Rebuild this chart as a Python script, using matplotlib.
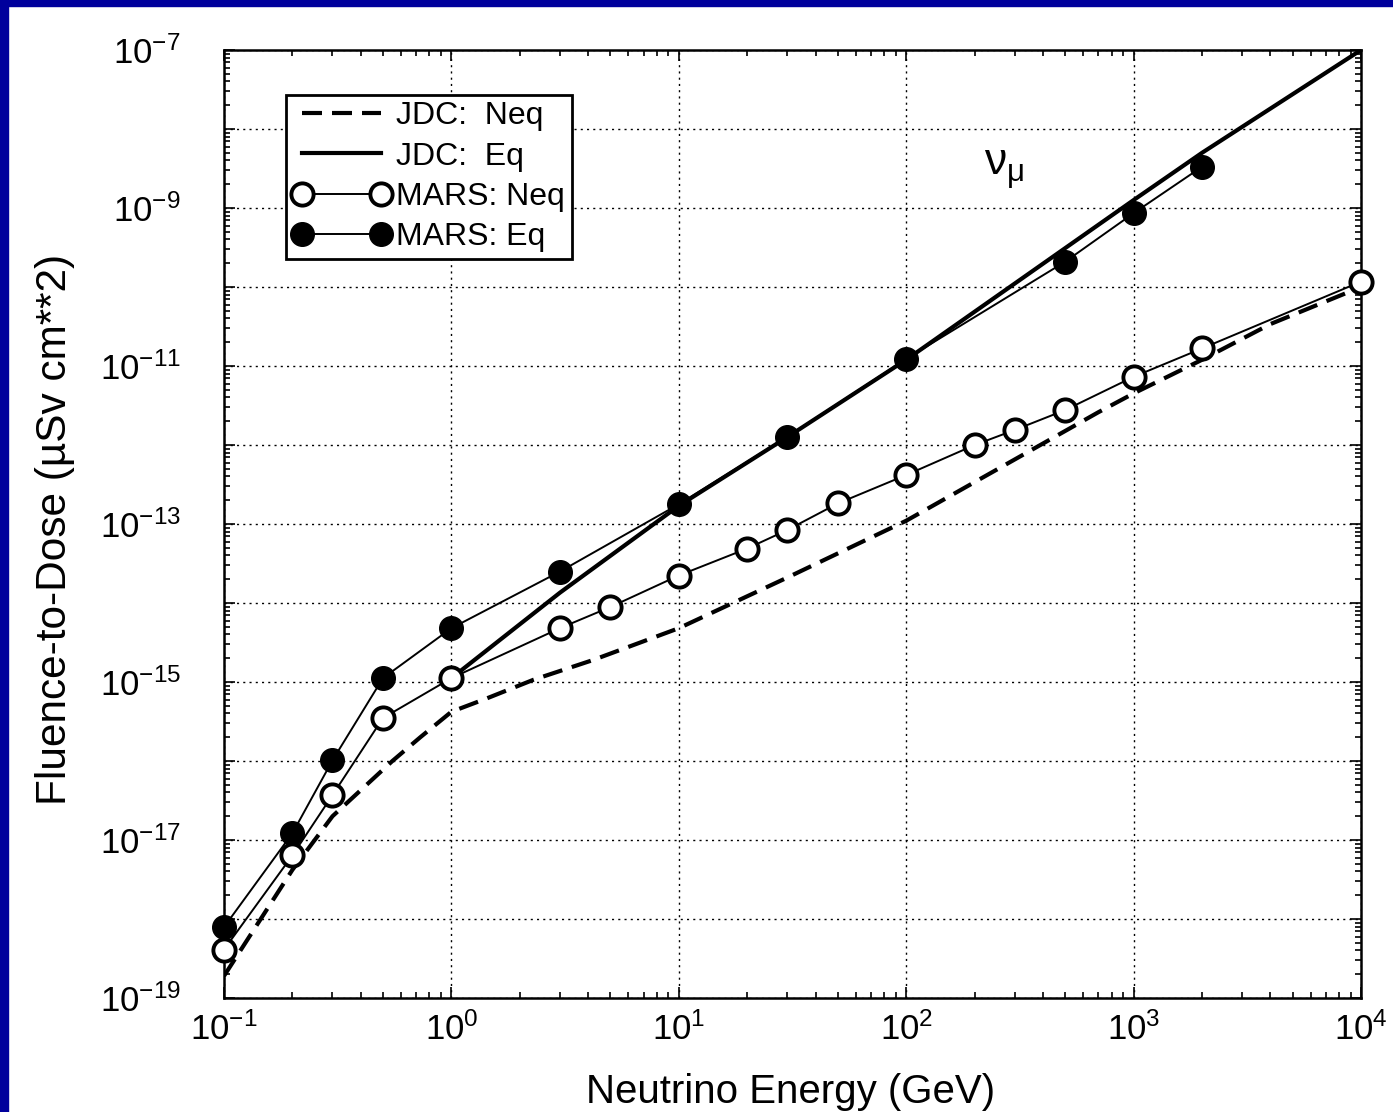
import numpy as np
import matplotlib.pyplot as plt
from matplotlib.ticker import LogLocator, FuncFormatter, NullFormatter
from matplotlib.patches import Rectangle

plt.rcParams['font.family'] = ['Liberation Sans', 'DejaVu Sans']
plt.rcParams['mathtext.fontset'] = 'custom'
plt.rcParams['mathtext.rm'] = 'Liberation Sans'
plt.rcParams['mathtext.it'] = 'Liberation Sans:italic'
plt.rcParams['mathtext.bf'] = 'Liberation Sans:bold'

# JDC conversion curves (GeV, uSv cm^2)
jdc_neq_e = [0.1, 0.2, 0.3, 0.55, 0.73, 1, 1.43, 2.3, 4.2, 10, 30, 100, 700, 1000, 2000, 4000, 10000]
jdc_neq_v = [1.9e-19, 4.2e-18, 2e-17, 1.0e-16, 2.0e-16, 4.2e-16, 6.2e-16, 1.07e-15, 1.9e-15,
             4.8e-15, 2.1e-14, 1.1e-13, 2.6e-12, 4.5e-12, 1.2e-11, 3.4e-11, 1.0e-10]
jdc_eq_e = [1, 3, 10, 30, 100, 1000, 2000, 10000]
jdc_eq_v = [1.12e-15, 1.35e-14, 1.7e-13, 1.26e-12, 1.2e-11, 1.26e-9, 5.0e-9, 1e-7]

# MARS results
mars_neq_e = [0.1, 0.2, 0.3, 0.5, 1, 3, 5, 10, 20, 30, 50, 100, 200, 300, 500, 1000, 2000, 10000]
mars_neq_v = [4.1e-19, 6.4e-18, 3.7e-17, 3.5e-16, 1.12e-15, 4.8e-15, 8.9e-15, 2.23e-14, 4.9e-14,
              8.4e-14, 1.82e-13, 4.17e-13, 1.0e-12, 1.55e-12, 2.77e-12, 7.3e-12, 1.67e-11, 1.17e-10]
mars_eq_e = [0.1, 0.2, 0.3, 0.5, 1, 3, 10, 30, 100, 500, 1000, 2000]
mars_eq_v = [7.9e-19, 1.22e-17, 1.02e-16, 1.12e-15, 4.8e-15, 2.5e-14, 1.78e-13, 1.27e-12,
             1.23e-11, 2.09e-10, 8.6e-10, 3.33e-9]

fig = plt.figure(figsize=(13.93, 11.12), dpi=100)
ax = fig.add_axes([0.1608, 0.1025, 0.8162, 0.8525])

ax.plot(jdc_neq_e, jdc_neq_v, color='k', lw=3, ls=(0, (4.8, 2.4)), label='JDC:  Neq')
ax.plot(jdc_eq_e, jdc_eq_v, color='k', lw=3, label='JDC:  Eq')
ax.plot(mars_neq_e, mars_neq_v, 'o-', color='k', lw=1.4, ms=16, mfc='white', mec='k',
        mew=2.8, clip_on=False, zorder=4, label='MARS: Neq')
ax.plot(mars_eq_e, mars_eq_v, 'o-', color='k', lw=1.4, ms=17, mfc='k', mec='k',
        clip_on=False, zorder=4, label='MARS: Eq')

ax.set_xscale('log')
ax.set_yscale('log')
ax.set_xlim(0.1, 1e4)
ax.set_ylim(1e-19, 1e-7)

ax.xaxis.set_major_locator(LogLocator(base=10, numticks=20))
ax.yaxis.set_major_locator(LogLocator(base=10, numticks=30))
ax.xaxis.set_minor_locator(LogLocator(base=10, subs=np.arange(2, 10), numticks=100))
ax.yaxis.set_minor_locator(LogLocator(base=10, subs=np.arange(2, 10), numticks=200))
ax.xaxis.set_minor_formatter(NullFormatter())
ax.yaxis.set_minor_formatter(NullFormatter())


def xfmt(v, pos):
    return r'$10^{%d}$' % int(round(np.log10(v)))


def yfmt(v, pos):
    n = int(round(np.log10(v)))
    return r'$10^{%d}$' % n if n % 2 else ''


ax.xaxis.set_major_formatter(FuncFormatter(xfmt))
ax.yaxis.set_major_formatter(FuncFormatter(yfmt))

ax.tick_params(which='both', direction='in', top=True, right=True, width=1.2, labelsize=25)
ax.tick_params(which='major', length=8)
ax.tick_params(which='minor', length=4.5)
ax.tick_params(axis='x', pad=10)
ax.tick_params(axis='y', pad=31)

for s in ax.spines.values():
    s.set_linewidth(1.8)

ax.grid(True, which='major', color='k', ls=(0, (1.5, 3)), lw=1.0)

ax.set_xlabel('Neutrino Energy (GeV)', fontsize=29)
ax.xaxis.set_label_coords(0.498, -0.079)
ax.set_ylabel('Fluence-to-Dose (µSv cm**2)', fontsize=30.5, va='center')
ax.yaxis.set_label_coords(-0.1486, 0.494)

ax.text(270, 3e-9, r'$\mathrm{\nu}_{\mathrm{\mu}}$', fontsize=32, ha='center', va='center')

leg = ax.legend(loc='upper left', bbox_to_anchor=(0.0545, 0.9525), borderaxespad=0,
                fontsize=23, numpoints=2, handlelength=3.06, handletextpad=0.2,
                labelspacing=0.32, borderpad=0.2, fancybox=False, framealpha=1,
                edgecolor='k')
leg.get_frame().set_linewidth(2)
leg.set_zorder(6)

# blue slide border on top and left
fig.patches.append(Rectangle((0, 0), 8 / 1393, 1, transform=fig.transFigure,
                             color='#00009c', zorder=10))
fig.patches.append(Rectangle((0, 1 - 6 / 1112), 1, 6 / 1112, transform=fig.transFigure,
                             color='#00009c', zorder=10))

fig.savefig('out.png', dpi=100)
